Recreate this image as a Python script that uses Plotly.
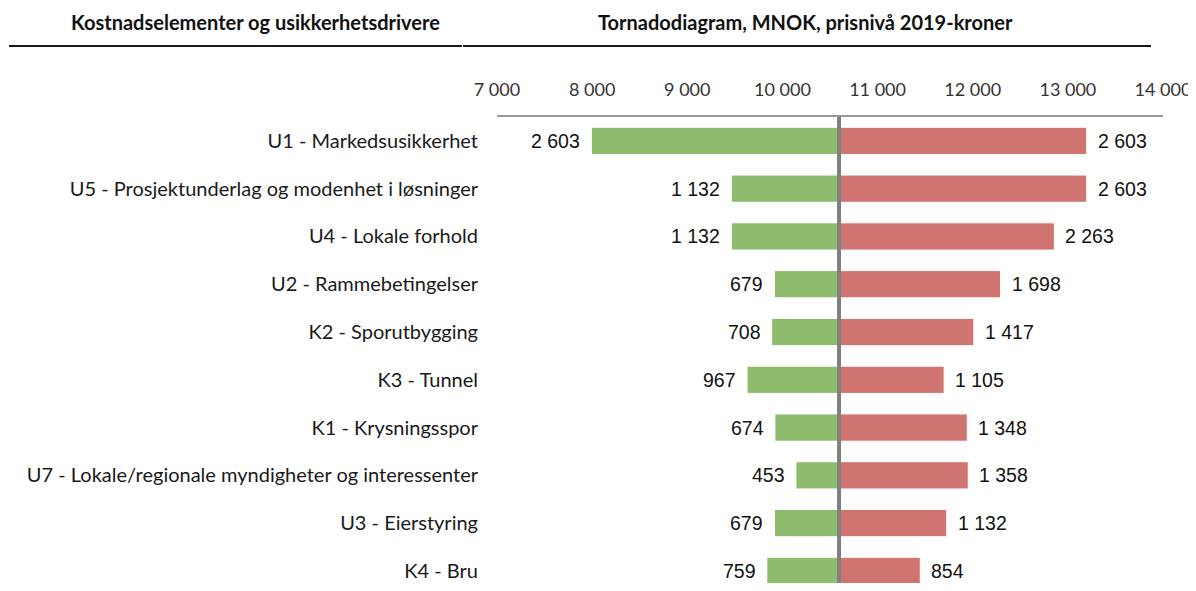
import plotly.graph_objects as go

categories = [
    "U1 - Markedsusikkerhet",
    "U5 - Prosjektunderlag og modenhet i løsninger",
    "U4 - Lokale forhold",
    "U2 - Rammebetingelser",
    "K2 - Sporutbygging",
    "K3 - Tunnel",
    "K1 - Krysningsspor",
    "U7 - Lokale/regionale myndigheter og interessenter",
    "U3 - Eierstyring",
    "K4 - Bru",
]
low_values = [2603, 1132, 1132, 679, 708, 967, 674, 453, 679, 759]
high_values = [2603, 2603, 2263, 1698, 1417, 1105, 1348, 1358, 1132, 854]
base_value = 10595
x_ticks = [7000, 8000, 9000, 10000, 11000, 12000, 13000, 14000]
title_left = "Kostnadselementer og usikkerhetsdrivere"
title_right = "Tornadodiagram, MNOK, prisnivå 2019-kroner"

GREEN = "#8EBB6D"
RED = "#D07472"
LABEL_FONT = "Lato"
NUM_FONT = "Liberation Sans"

ypos = list(range(len(categories)))


def fmt(v):
    return f"{v:,}".replace(",", " ")


fig = go.Figure()
fig.add_trace(go.Bar(
    y=ypos, x=[-v for v in low_values], base=base_value, orientation="h",
    marker=dict(color=GREEN, line=dict(color="white", width=1)),
    width=0.57, hoverinfo="skip", showlegend=False, cliponaxis=False,
))
fig.add_trace(go.Bar(
    y=ypos, x=high_values, base=base_value, orientation="h",
    marker=dict(color=RED, line=dict(color="white", width=1)),
    width=0.57, hoverinfo="skip", showlegend=False, cliponaxis=False,
))

annotations = []
for i, (lo, hi) in enumerate(zip(low_values, high_values)):
    annotations.append(dict(
        x=base_value - lo, y=i, xref="x", yref="y", text=fmt(lo),
        showarrow=False, xanchor="right", yanchor="middle", xshift=-9,
        font=dict(family=NUM_FONT, size=19.5, color="#111111"),
    ))
    annotations.append(dict(
        x=base_value + hi, y=i, xref="x", yref="y", text=fmt(hi),
        showarrow=False, xanchor="left", yanchor="middle", xshift=9,
        font=dict(family=NUM_FONT, size=19.5, color="#111111"),
    ))

annotations.append(dict(
    x=-0.3619, y=1.2039, xref="paper", yref="paper", text=f"<b>{title_left}</b>",
    showarrow=False, xanchor="center", yanchor="middle",
    font=dict(family=LABEL_FONT, size=20, color="#111111"),
))
annotations.append(dict(
    x=0.4625, y=1.2039, xref="paper", yref="paper", text=f"<b>{title_right}</b>",
    showarrow=False, xanchor="center", yanchor="middle",
    font=dict(family=LABEL_FONT, size=20, color="#111111"),
))

shapes = [
    dict(type="line", xref="x", yref="paper", x0=base_value, x1=base_value,
         y0=-0.02, y1=1, line=dict(color="#7F7F7F", width=4), layer="above"),
    dict(type="line", xref="paper", yref="paper", x0=-0.7327, x1=-0.0526,
         y0=1.1524, y1=1.1524, line=dict(color="#1A1A1A", width=2)),
    dict(type="line", xref="paper", yref="paper", x0=-0.0510, x1=0.9820,
         y0=1.1524, y1=1.1524, line=dict(color="#1A1A1A", width=2)),
]

fig.update_layout(
    width=1188, height=575,
    margin=dict(l=489, r=33, t=109, b=0, pad=0),
    paper_bgcolor="white", plot_bgcolor="white",
    barmode="overlay", separators=", ",
    annotations=annotations, shapes=shapes,
    xaxis=dict(
        range=[7000, 14000], side="top", tickvals=x_ticks, tickformat=",",
        showgrid=False, zeroline=False, showline=True, linecolor="#999999",
        linewidth=1.5, ticks="", ticklabelstandoff=12,
        tickfont=dict(family=LABEL_FONT, size=18, color="#333333"),
    ),
    yaxis=dict(
        range=[9.253, -0.5], tickvals=ypos, ticktext=categories,
        showgrid=False, zeroline=False, showline=False, ticks="",
        ticklabelstandoff=18,
        tickfont=dict(family=LABEL_FONT, size=20, color="#1A1A1A"),
    ),
)

fig.write_html("out.html")
